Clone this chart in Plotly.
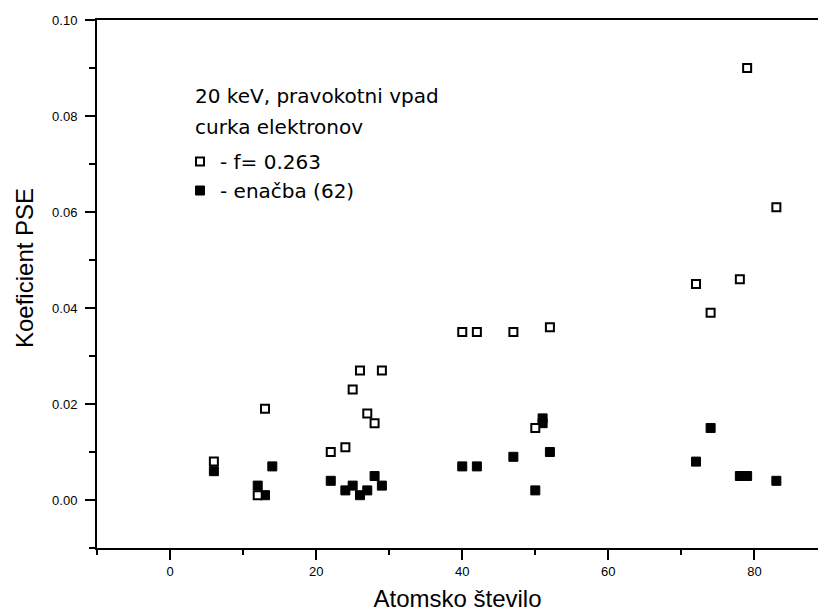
import plotly.graph_objects as go

# Atomic number (Z) and PSE coefficient values
open_z = [6, 12, 13, 22, 24, 25, 26, 27, 28, 29, 40, 42, 47, 50, 52, 72, 74, 78, 79, 83]
open_k = [0.008, 0.001, 0.019, 0.010, 0.011, 0.023, 0.027, 0.018, 0.016, 0.027,
          0.035, 0.035, 0.035, 0.015, 0.036, 0.045, 0.039, 0.046, 0.090, 0.061]

filled_z = [6, 12, 13, 14, 22, 24, 25, 26, 27, 28, 29, 40, 42, 47, 50, 51, 51, 52, 72, 74, 78, 79, 83]
filled_k = [0.006, 0.003, 0.001, 0.007, 0.004, 0.002, 0.003, 0.001, 0.002, 0.005, 0.003,
            0.007, 0.007, 0.009, 0.002, 0.017, 0.016, 0.010, 0.008, 0.015, 0.005, 0.005, 0.004]

open_label = "- f= 0.263"
filled_label = "- enačba (62)"
note_lines = ["20 keV, pravokotni vpad", "curka elektronov"]
x_title = "Atomsko število"
y_title = "Koeficient PSE"

fig = go.Figure()
fig.add_trace(go.Scatter(
    x=filled_z, y=filled_k, mode="markers", name=filled_label, legendrank=2,
    marker=dict(symbol="square", size=9, color="black", line=dict(color="black", width=1)),
))
fig.add_trace(go.Scatter(
    x=open_z, y=open_k, mode="markers", name=open_label, legendrank=1,
    marker=dict(symbol="square", size=8, color="white", line=dict(color="black", width=2)),
))

axis_common = dict(
    showgrid=False, zeroline=False, showline=True, linecolor="black", linewidth=2,
    ticks="outside", ticklen=10, tickwidth=2, tickcolor="black",
    tickfont=dict(family="Liberation Sans, Arial, sans-serif", size=13, color="black"),
)

fig.update_xaxes(
    range=[-10, 88.7], dtick=20, tick0=0, mirror=True,
    minor=dict(dtick=10, tick0=0, ticks="outside", ticklen=5, tickwidth=2, tickcolor="black"),
    title=dict(text=x_title, font=dict(family="Liberation Sans, Arial, sans-serif", size=24, color="black"),
               standoff=13),
    **axis_common,
)
fig.update_yaxes(
    range=[-0.01, 0.10], dtick=0.02, tick0=0, tickformat=".2f", mirror=False,
    ticklabelstandoff=5,
    minor=dict(dtick=0.01, tick0=0, ticks="outside", ticklen=6, tickwidth=2, tickcolor="black"),
    **axis_common,
)

L, T, W, H = 97, 20, 818, 614
B = 66
pw = W - L
ph = H - T - B

def px(xp):
    return (xp - L) / pw

def py(yp):
    return (H - B - yp) / ph

annotations = [
    dict(text=y_title, x=px(24), y=py(268), xref="paper", yref="paper", textangle=-90,
         showarrow=False, xanchor="center", yanchor="middle",
         font=dict(family="Liberation Sans, Arial, sans-serif", size=24, color="black")),
]
for line, yc in zip(note_lines, [96, 127]):
    annotations.append(dict(text=line, x=px(193), y=py(yc), xref="paper", yref="paper",
                            showarrow=False, xanchor="left", yanchor="middle",
                            font=dict(family="DejaVu Sans, sans-serif", size=20, color="black")))

fig.update_layout(
    width=W, height=H,
    margin=dict(l=L, r=0, t=T, b=B),
    paper_bgcolor="white", plot_bgcolor="white",
    showlegend=True,
    legend=dict(x=px(180), y=py(142), xanchor="left", yanchor="top",
                bgcolor="rgba(0,0,0,0)", borderwidth=0,
                font=dict(family="DejaVu Sans, sans-serif", size=20, color="black"),
                itemwidth=30, tracegroupgap=0),
    annotations=annotations,
)

fig.write_html("out.html")
